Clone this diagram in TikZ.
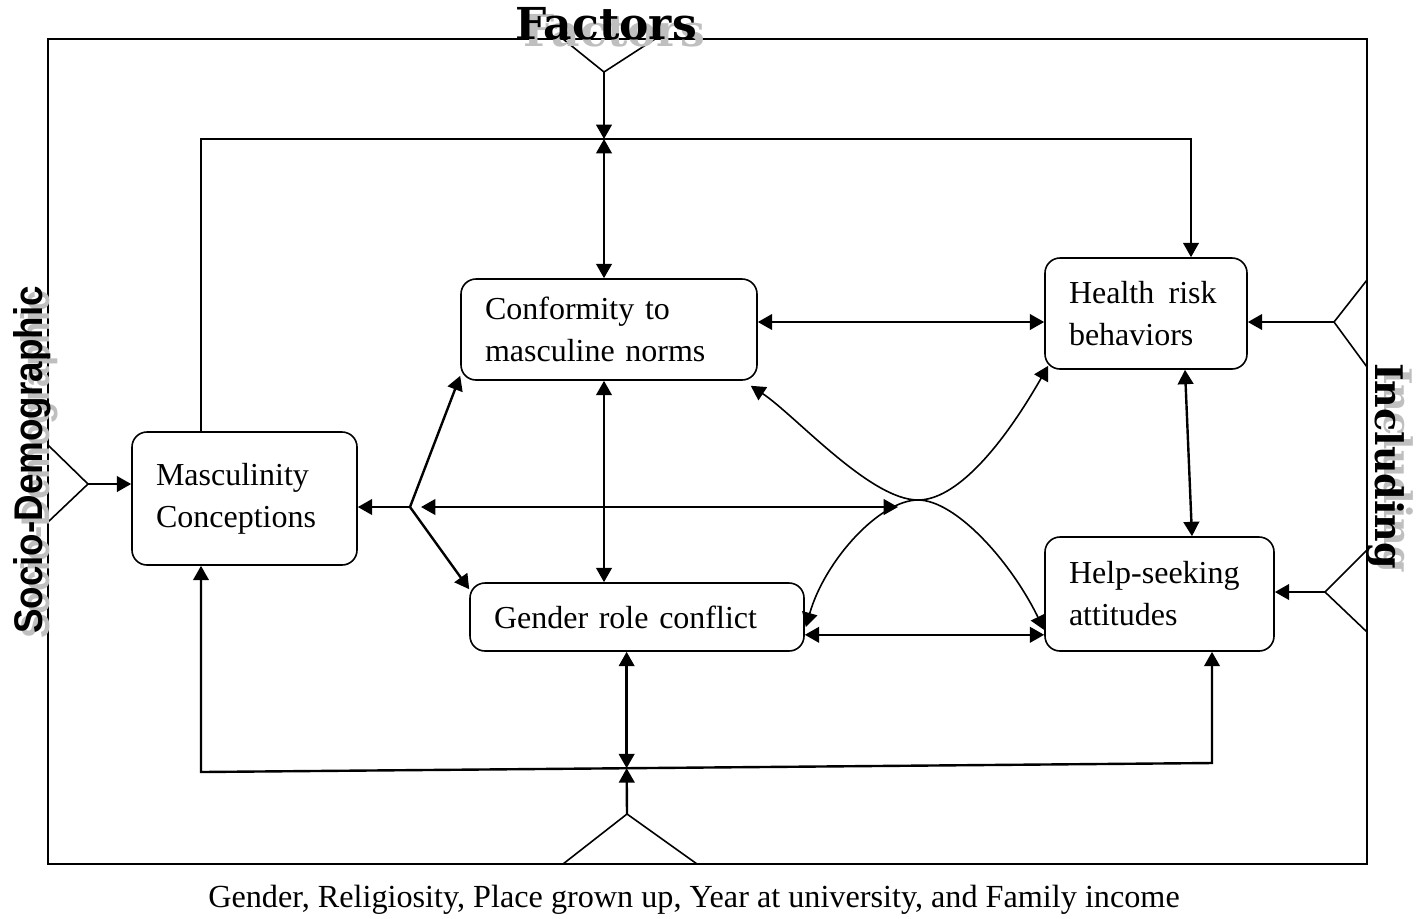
\documentclass[tikz,border=0pt]{standalone}
\usepackage{fontspec}
\setmainfont{Liberation Serif}
\newfontfamily\slabfont{DejaVu Serif}
\newfontfamily\sidefont{Liberation Sans}[FakeStretch=0.92]
\usepackage{tikz}
\usetikzlibrary{calc}
\usetikzlibrary{arrows.meta}
\newcommand{\boxfont}{\fontsize{16}{21}\selectfont}
\newcommand{\tipsize}{length=7.2pt,width=7.8pt}
\tikzset{
    factor/.style={draw, rounded corners=7.5pt, line width=0.8pt, align=left, inner xsep=12pt, inner ysep=0pt, font=\boxfont},
    link/.style={line width=1.2pt, -{Triangle[\tipsize]}},
    both/.style={line width=1.2pt, {Triangle[\tipsize]}-{Triangle[\tipsize]}},
    curvelink/.style={both, line width=0.8pt},
    funnel/.style={line width=0.8pt},
    title/.style={font=\slabfont\bfseries\fontsize{22}{24}\selectfont, inner sep=0pt},
    sidetitle/.style={font=\sidefont\bfseries\fontsize{20}{24}\selectfont, inner sep=0pt},
    shade/.style={text=gray!50}
}

\begin{document}
\begin{tikzpicture}[x=0.5pt, y=-0.5pt]
    \useasboundingbox (0,0) rectangle (1423,918);
    \draw[line width=1pt] (48,39) rectangle (1367,864);

    % factors
    \node[factor, text width=124pt, minimum height=50.5pt] (cmn) at (609,329.5) {Conformity to\\masculine norms};
    \node[factor, text width=77pt, minimum height=55.5pt] (hrb) at (1146,313.5) {Health\hspace{0.45em}risk\\behaviors};
    \node[factor, text width=88.5pt, minimum height=66.5pt] (mc) at (244.5,498.5) {Masculinity\\Conceptions};
    \node[factor, text width=143pt, minimum height=34pt] (grc) at (637,617) {Gender role conflict};
    \node[factor, text width=90.5pt, minimum height=57pt] (hsa) at (1159.5,594) {Help-seeking\\attitudes};

    \coordinate (tl) at (201,139);
    \coordinate (tr) at (1191,139);
    \coordinate (bl) at (201,772);
    \coordinate (br) at (1212,763);
    \coordinate (bm) at ($(bl)!0.421!(br)$);
    \coordinate (ftop) at (604,72);
    \coordinate (fbot) at (627,814);
    \coordinate (fleft) at (88,484);
    \coordinate (fr1) at (1334,322);
    \coordinate (fr2) at (1325,592);
    \coordinate (hub) at (410,507);
    \coordinate (kiss) at (918,500);

    % funnels on the frame
    \draw[funnel] (563,39) -- (ftop) -- (655,39);
    \draw[funnel] (563,864) -- (fbot) -- (697,864);
    \draw[funnel] (48,445) -- (fleft) -- (48,522);
    \draw[funnel] (1367,280) -- (fr1) -- (1367,367);
    \draw[funnel] (1367,550) -- (fr2) -- (1367,632);
    \draw[link] (ftop) -- (ftop |- tl);
    \draw[link] (fbot) -- (bm);
    \draw[link] (fleft) -- (mc.west |- fleft);
    \draw[link] (fr1) -- (hrb.east |- fr1);
    \draw[link] (fr2) -- (hsa.east |- fr2);

    % outer loops
    \draw[link] (mc.north -| tl) -- (tl) -- (tr) -- (tr |- hrb.north);
    \draw[both] (ftop |- tl) -- (cmn.north -| ftop);
    \draw[both] (mc.south -| bl) -- (bl) -- (br) -- (br |- hsa.south);
    \draw[both] (grc.south -| bm) -- (bm);

    % hub
    \draw[link] (hub) -- (mc.east |- hub);
    \draw[link] (hub) -- ($(cmn.south west)+(0,-5)$);
    \draw[link] (hub) -- ($(grc.north west)+(0,7)$);
    \draw[both] ($(hub)+(11,0)$) -- ($(kiss)+(-20,7)$);

    \draw[both] (cmn.south -| ftop) -- (grc.north -| ftop);
    \draw[both] (cmn.east |- fr1) -- (hrb.west |- fr1);
    \draw[both] ($(grc.south east)+(0,-17)$) -- ($(hsa.south west)+(0,-17)$);
    \draw[both] ($(hrb.south)+(39,0)$) -- ($(hsa.north)+(32.5,0)$);

    \draw[curvelink] ($(cmn.south east)+(-7,5)$) .. controls (795,415) and (870,500) .. (kiss)
        .. controls (955,500) and (1000,450) .. ($(hrb.south west)+(4,-4)$);
    \draw[curvelink] ($(grc.east)+(1,10)$) .. controls (825,560) and (880,500) .. (kiss)
        .. controls (955,500) and (1010,560) .. ($(hsa.west)+(0,36)$);

    % titles
    \node[title, shade, anchor=base] (factors-s) at (614,46) {Factors};
    \node[title, anchor=base] (factors) at (606,39) {Factors};
    \node[sidetitle, shade, anchor=base, rotate=90] (socio-s) at (49,465) {Socio-Demographic};
    \node[sidetitle, anchor=base, rotate=90] (socio) at (42,460) {Socio-Demographic};
    \node[title, shade, anchor=base, rotate=-90, font=\slabfont\bfseries\fontsize{19}{22}\selectfont] (incl-s) at (1384,470) {Including};
    \node[title, anchor=base, rotate=-90, font=\slabfont\bfseries\fontsize{19}{22}\selectfont] (incl) at (1375,466) {Including};
    \node[font=\fontsize{16.1}{18}\selectfont] (covars) at (694,900) {Gender, Religiosity, Place grown up, Year at university, and Family income};
\end{tikzpicture}
\end{document}
